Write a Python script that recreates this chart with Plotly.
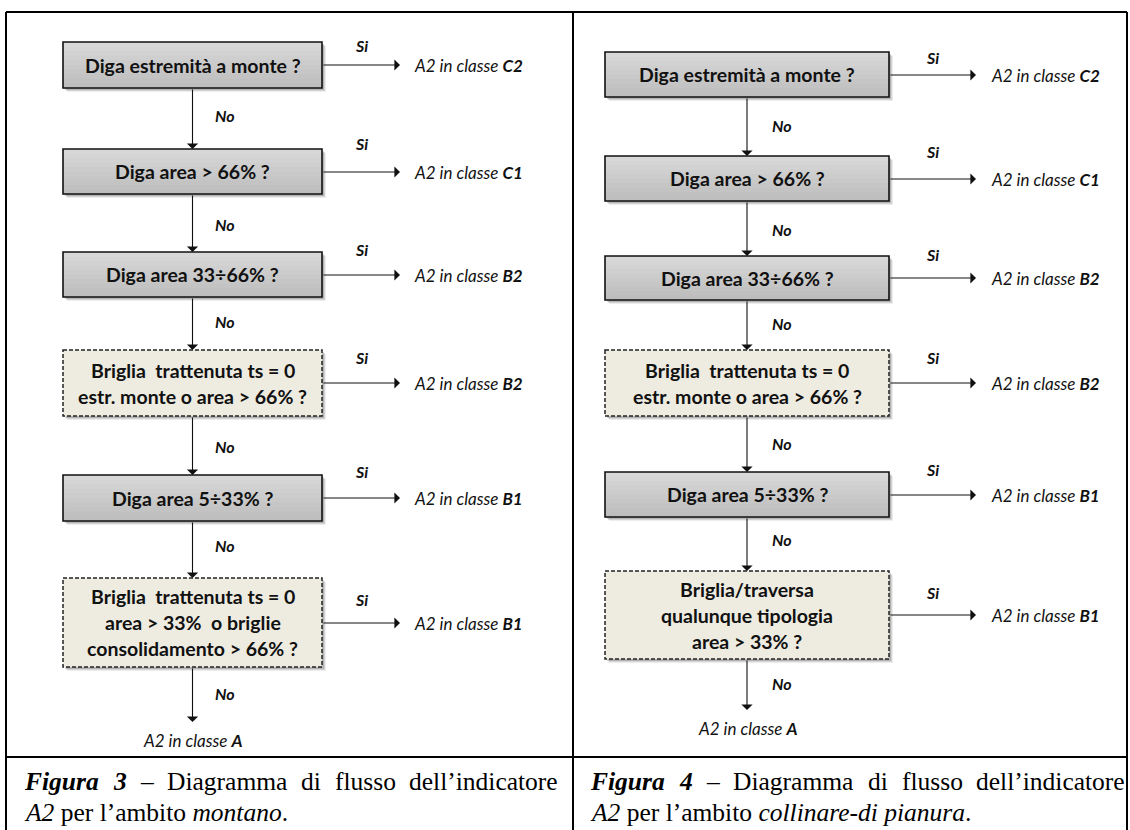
import plotly.graph_objects as go

# ---------------- data (texts) ----------------
left_questions = [
    "Diga estremità a monte ?",
    "Diga area > 66% ?",
    "Diga area 33÷66% ?",
    "Briglia  trattenuta ts = 0\nestr. monte o area > 66% ?",
    "Diga area 5÷33% ?",
    "Briglia  trattenuta ts = 0\narea > 33%  o briglie\nconsolidamento > 66% ?",
]
left_classes = ["C2", "C1", "B2", "B2", "B1", "B1"]
left_dashed = [False, False, False, True, False, True]
left_final = "A"

right_questions = [
    "Diga estremità a monte ?",
    "Diga area > 66% ?",
    "Diga area 33÷66% ?",
    "Briglia  trattenuta ts = 0\nestr. monte o area > 66% ?",
    "Diga area 5÷33% ?",
    "Briglia/traversa\nqualunque tipologia\narea > 33% ?",
]
right_classes = ["C2", "C1", "B2", "B2", "B1", "B1"]
right_dashed = [False, False, False, True, False, True]
right_final = "A"

yes_label = "Si"
no_label = "No"
outcome_prefix = "A2 in classe "

caption_left_words = ["<b><i>Figura</i></b>", "<b><i>3</i></b>", "–", "Diagramma", "di", "flusso", "dell’indicatore"]
caption_left_line2 = "<i>A2</i> per l’ambito <i>montano</i>."
caption_right_words = ["<b><i>Figura</i></b>", "<b><i>4</i></b>", "–", "Diagramma", "di", "flusso", "dell’indicatore"]
caption_right_line2 = "<i>A2</i> per l’ambito <i>collinare-di pianura</i>."

# ---------------- layout geometry (pixels) ----------------
W, H = 1130, 830
panels = [
    dict(questions=left_questions, classes=left_classes, dashed=left_dashed, final=left_final,
         x0=63, x1=322, cx=192.5,
         boxes=[(42, 88), (149, 194), (252, 297), (350, 416), (475, 521), (578, 667)],
         no_y=[115, 224, 321, 446, 545, 693], si_y=[45, 143, 249, 357, 471, 599],
         arrow_y=[65, 172, 275, 383, 498, 623],
         si_x=361, no_x=225, arr_tip=400, lab_x=412, final_tip=722, final_y=740),
    dict(questions=right_questions, classes=right_classes, dashed=right_dashed, final=right_final,
         x0=605, x1=889, cx=747,
         boxes=[(52, 97), (156, 201), (256, 300), (350, 416), (472, 517), (571, 659)],
         no_y=[125, 229, 323, 443, 539, 683], si_y=[57, 151, 254, 357, 469, 592],
         arrow_y=[75, 179, 278, 383, 495, 615],
         si_x=932, no_x=782, arr_tip=976, lab_x=989, final_tip=710, final_y=728),
]
LINE_GAP = 26

shapes, ann = [], []
BOX_FONT = dict(family="Lato", size=19.5, color="#111")
LAB_FONT = dict(family="Lato", size=17, color="#111")
SN_FONT = dict(family="Lato", size=16, color="#111")


def add_box(x0, x1, y0, y1, dashed):
    # soft shadow
    for off, a in ((4, 0.07), (3, 0.11), (2, 0.15)):
        shapes.append(dict(type="rect", x0=x0 + off, x1=x1 + off, y0=y0 + off, y1=y1 + off,
                           fillcolor=f"rgba(0,0,0,{a})", line=dict(width=0)))
    if dashed:
        shapes.append(dict(type="rect", x0=x0, x1=x1, y0=y0, y1=y1, fillcolor="#eeece1",
                           line=dict(color="#222", width=1.5, dash="4px,2px")))
    else:
        n = 10
        c_top, c_bot = (216, 216, 216), (190, 190, 190)
        for i in range(n):
            t = i / (n - 1)
            c = tuple(int(c_top[k] + (c_bot[k] - c_top[k]) * t) for k in range(3))
            shapes.append(dict(type="rect", x0=x0, x1=x1, y0=y0 + (y1 - y0) * i / n,
                               y1=y0 + (y1 - y0) * (i + 1) / n + 0.6,
                               fillcolor=f"rgb{c}", line=dict(width=0)))
        shapes.append(dict(type="rect", x0=x0, x1=x1, y0=y0, y1=y1, fillcolor="rgba(0,0,0,0)",
                           line=dict(color="#111", width=1.6)))


def add_arrow(tx, ty, sx, sy):
    ann.append(dict(x=tx, y=ty, ax=sx, ay=sy, xref="x", yref="y", axref="x", ayref="y",
                    text="", showarrow=True, arrowhead=1, arrowsize=1.7, arrowwidth=1.1,
                    arrowcolor="#111", standoff=0))


def text(x, y, s, font, xanchor="center"):
    ann.append(dict(x=x, y=y, xref="x", yref="y", text=s, showarrow=False, font=font,
                    xanchor=xanchor, yanchor="middle"))


for p in panels:
    n = len(p["questions"])
    for i in range(n):
        y0, y1 = p["boxes"][i]
        add_box(p["x0"], p["x1"], y0, y1, p["dashed"][i])
        lines = p["questions"][i].split("\n")
        yc = (y0 + y1) / 2
        for j, ln in enumerate(lines):
            text(p["cx"], yc + (j - (len(lines) - 1) / 2) * LINE_GAP, f"<b>{ln}</b>", BOX_FONT)
        # yes branch
        ay = p["arrow_y"][i]
        add_arrow(p["arr_tip"], ay, p["x1"], ay)
        text(p["si_x"], p["si_y"][i], f"<b><i>{yes_label}</i></b>", SN_FONT)
        text(p["lab_x"], ay, f"<i>{outcome_prefix}<b>{p['classes'][i]}</b></i>", LAB_FONT, "left")
        # no branch
        nxt_top = p["boxes"][i + 1][0] if i + 1 < n else p["final_tip"]
        add_arrow(p["cx"], nxt_top, p["cx"], y1)
        text(p["no_x"], p["no_y"][i], f"<b><i>{no_label}</i></b>", SN_FONT)
    text(p["cx"], p["final_y"], f"<i>{outcome_prefix}<b>{p['final']}</b></i>", LAB_FONT)

# frame lines
frame = [(6, 12, 6, H + 5), (1127, 12, 1127, H + 5), (6, 12, 1127, 12), (573, 12, 573, H + 5), (6, 757, 1127, 757)]
for x0, y0, x1, y1 in frame:
    shapes.append(dict(type="line", x0=x0, y0=y0, x1=x1, y1=y1, line=dict(color="#000", width=2)))

# captions (justified first line): approximate rendered word widths at 22px
CAP_SIZE = 25.5
CAP_FONT = dict(family="Liberation Serif", size=CAP_SIZE, color="#000")
word_w22 = [66, 12, 12, 105, 18, 57, 128]
ww = [w * CAP_SIZE / 22 for w in word_w22]
for words, xl, xr, line2 in ((caption_left_words, 22, 560, caption_left_line2),
                             (caption_right_words, 588, 1127, caption_right_line2)):
    gap = (xr - xl - sum(ww)) / (len(ww) - 1)
    x = xl
    for k, w in enumerate(words[:-1]):
        text(x, 781, w, CAP_FONT, "left")
        x += ww[k] + gap
    text(xr, 781, words[-1], CAP_FONT, "right")
    text(xl, 812, line2, CAP_FONT, "left")

fig = go.Figure()
fig.update_layout(
    width=W, height=H, margin=dict(l=0, r=0, t=0, b=0),
    paper_bgcolor="white", plot_bgcolor="white",
    xaxis=dict(range=[0, W], visible=False, fixedrange=True),
    yaxis=dict(range=[H, 0], visible=False, fixedrange=True),
    shapes=shapes, annotations=ann, showlegend=False,
)
fig.write_html("out.html", config={"displayModeBar": False},
               post_script="document.body.style.margin='0';document.body.style.overflow='hidden';")
